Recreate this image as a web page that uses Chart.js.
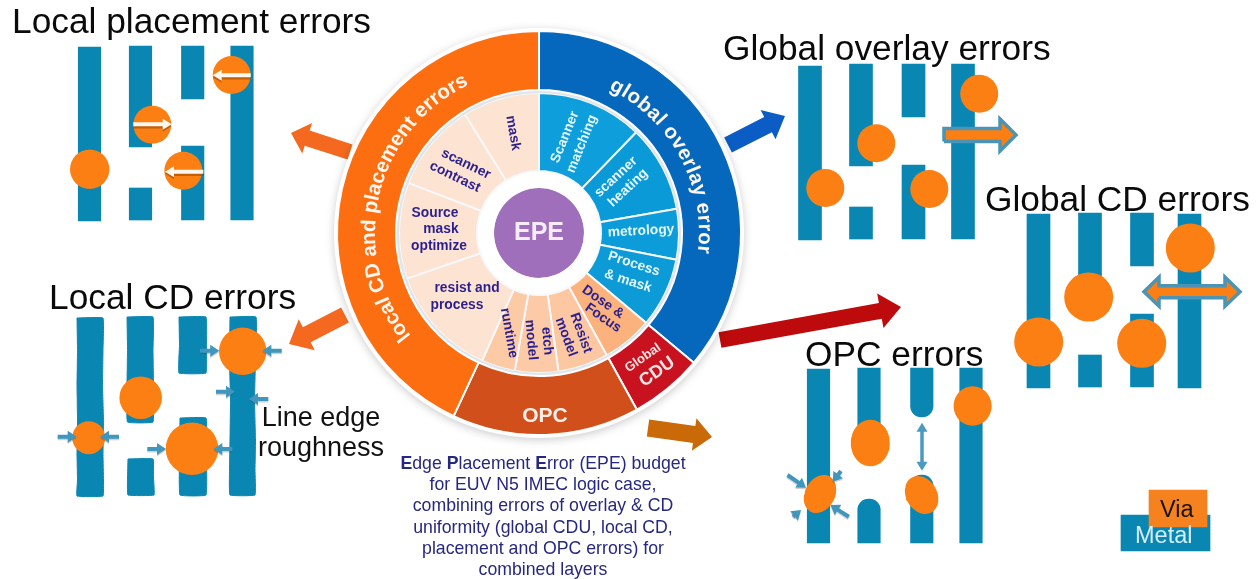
<!DOCTYPE html>
<html>
<head>
<meta charset="utf-8">
<title>EPE budget</title>
<script src="https://cdn.jsdelivr.net/npm/chart.js@4"></script>
<style>
  html, body { margin: 0; padding: 0; background: #fff; }
  #page { position: relative; width: 1257px; height: 579px; overflow: hidden; font-family: "Liberation Sans", Arial, sans-serif; }
  canvas { position: absolute; }
  #diagrams { left: 0; top: 0; }
  #ring { left: 324px; top: 18px; filter: drop-shadow(0 2px 4px rgba(0,0,0,.2)); }
  .title { position: absolute; font-size: 35.3px; line-height: 35px; color: #0a0a0a; white-space: nowrap; }
  .note { position: absolute; font-size: 27px; line-height: 30px; color: #111; text-align: center; width: 160px; }
  .caption { position: absolute; left: 385px; top: 453px; width: 316px; font-size: 17.7px; line-height: 21.2px; color: #26287f; text-align: center; white-space: nowrap; }
  .key { position: absolute; font-size: 23.5px; line-height: 22px; }
</style>
</head>
<body>
<div id="page">
  <canvas id="diagrams" width="1257" height="579"></canvas>
  <canvas id="ring" width="430" height="430"></canvas>
  <div class="title" style="left:12px;top:3px">Local placement errors</div>
  <div class="title" style="left:723px;top:30px">Global overlay errors</div>
  <div class="title" style="left:985px;top:181px">Global CD errors</div>
  <div class="title" style="left:49px;top:279px">Local CD errors</div>
  <div class="title" style="left:805px;top:336px">OPC errors</div>
  <div class="note" style="left:241px;top:402px">Line edge<br>roughness</div>
  <div class="caption"><b>E</b>dge <b>P</b>lacement <b>E</b>rror (EPE) budget<br>for EUV N5 IMEC logic case,<br>combining errors of overlay &amp; CD<br>uniformity (global CDU, local CD,<br>placement and OPC errors) for<br>combined layers</div>
  <div class="key" style="left:1160px;top:498px;color:#1a1208">Via</div>
  <div class="key" style="left:1135px;top:524px;color:#d4eef6">Metal</div>
</div>
<script>
// budget ring, degrees of the circle per item, clockwise from 12 o'clock
const outerItems = ["global overlay error", "Global CDU", "OPC", "local CD and placement errors"];
const outerShares = [130, 21, 54, 155];
const innerItems = ["Scanner matching", "scanner heating", "metrology", "Process & mask", "Dose & Focus", "Resist model", "etch model", "runtime", "resist and process", "Source mask optimize", "scanner contrast", "mask"];
const innerShares = [44, 36, 21, 29, 21, 21, 18, 14, 47, 40, 37, 32];

// metal lines as [x centre, y top, y bottom]
const placementLines = [[89.5, 47, 221], [140.5, 46, 147], [140.5, 188, 220], [192.7, 46, 99], [192.7, 146, 220], [242, 46, 220]];
const overlayLines = [[810, 66, 240], [861, 64, 166], [861, 207, 239], [913.5, 64, 117], [913.5, 165, 239], [963, 64, 239]];
const globalCdLines = [[1038.5, 214, 388], [1090, 213, 314], [1090, 355, 387], [1142, 213, 266], [1142, 314, 387], [1189.5, 214, 388]];
const opcLines = [[818.5, 369, 543], [869, 368, 440], [971, 368, 543]];
const opcPullbackUp = [[921.8, 368, 417]];
const opcPullbackDown = [[869, 499, 543], [921.8, 475, 543]];
const keyMetal = [[1165.5, 515, 551]];
const keyVia = [[1178, 490, 527]];

// local CD lines with rough edges, rows of [y, left x, right x]
const roughLines = [
  [[318, 77, 103], [350, 77.5, 103], [385, 77, 102.5], [420, 77.5, 103.5], [455, 77, 103], [480, 77.5, 103.5], [496, 77, 103]],
  [[317, 127, 153], [350, 127.5, 153], [385, 127, 153.5], [422, 127.5, 153]],
  [[459, 128, 153], [478, 127.5, 153.5], [495, 128, 154]],
  [[317, 179, 206], [345, 179.5, 206.5], [373, 179, 206]],
  [[418, 180, 206], [455, 179.5, 206.5], [495, 180, 206]],
  [[317, 230, 256], [360, 229.5, 255.5], [400, 230.5, 254.5], [440, 230, 255.5], [470, 229.5, 255], [495, 230, 255]]
];

// vias as x, y and radius
const placementViaX = [89.7, 152.3, 183.3, 231.7];
const placementViaY = [169.3, 124.7, 170.7, 75];
const placementViaR = [19.7, 19, 19, 19];
const localCdViaX = [242.7, 140.7, 88.7, 192];
const localCdViaY = [351.3, 397.7, 437.7, 448.7];
const localCdViaR = [23.7, 21.3, 16.5, 26.3];
const overlayViaX = [979.2, 876.3, 825.3, 929.3];
const overlayViaY = [93.7, 143.3, 188, 189];
const overlayViaR = [19, 19, 19, 19];
const globalCdViaX = [1190.3, 1088.7, 1038.7, 1141.7];
const globalCdViaY = [248, 297, 342, 343.3];
const globalCdViaR = [24.5, 24.5, 24.5, 24.5];
// OPC vias are stretched: x, y, half width, half height, tilt in degrees
const opcVias = [[972.6, 406, 19, 19.7, 0], [870.3, 443, 19.5, 23.3, 0], [820, 494, 20, 15, -62], [921.6, 495, 20, 15.5, 60]];

// arrows as [x from, y from, x to, y to]
const shiftArrows = [[250.7, 75.3, 212.7, 75.3], [133.3, 124.3, 171.7, 124.3], [203.3, 171.7, 165, 171.7]];
const pinchArrows = [[200, 350.7, 219.3, 350.7], [281.7, 350.7, 262.3, 350.7], [216, 391.7, 235, 391.7], [268.3, 399, 249, 399], [57.7, 436.7, 76.7, 436.7], [119, 436.7, 100, 436.7], [147.3, 449, 166, 449], [232.3, 449, 213.3, 449], [787.5, 475, 806, 487.7], [848.8, 516.7, 830.4, 505], [841, 471, 832.7, 481.7], [793, 516.7, 801, 510]];
const opcGapArrow = [922, 422.7, 922, 470.7];
const overlayShift = [944, 135, 1016, 135];
const cdGrowth = [1144, 291.7, 1240, 291.7];
const calloutPlacement = [350, 152, 291, 133];
const calloutLocalCd = [345, 315, 289, 344];
const calloutOverlay = [728, 145, 785, 116];
const calloutCdu = [720, 340, 901, 307];
const calloutOpc = [648, 428, 712, 437];

const METAL = "#0a86b3";
const VIA = "#fb7f12";

// closed outline, filled by the line dataset itself
function shape(points, color, order, edge, edgeWidth, tension) {
  return {
    type: "scatter",
    data: points.concat([points[0]]).map(p => ({ x: p[0], y: p[1] })),
    showLine: true,
    fill: "shape",
    backgroundColor: color,
    borderColor: edge || color,
    borderWidth: edgeWidth || 0,
    tension: tension || 0,
    pointRadius: 0,
    order: order
  };
}

// block arrow outline along a segment
function arrowOutline(seg, shaft, headW, headL, both) {
  const len = Math.hypot(seg[2] - seg[0], seg[3] - seg[1]);
  const ux = (seg[2] - seg[0]) / len, uy = (seg[3] - seg[1]) / len;
  const at = (along, side) => [seg[0] + ux * along - uy * side, seg[1] + uy * along + ux * side];
  const start = both ? headL : 0;
  const pts = [at(start, shaft / 2), at(len - headL, shaft / 2), at(len - headL, headW / 2), at(len, 0),
    at(len - headL, -headW / 2), at(len - headL, -shaft / 2), at(start, -shaft / 2)];
  if (both) pts.push(at(headL, -headW / 2), at(0, 0), at(headL, headW / 2));
  return pts;
}

function ellipseOutline(v) {
  const rad = v[4] * Math.PI / 180;
  const pts = [];
  for (let i = 0; i < 48; i++) {
    const a = i / 48 * 2 * Math.PI;
    const ex = v[2] * Math.cos(a), ey = v[3] * Math.sin(a);
    pts.push([v[0] + ex * Math.cos(rad) - ey * Math.sin(rad), v[1] + ex * Math.sin(rad) + ey * Math.cos(rad)]);
  }
  return pts;
}

function roughOutline(rows) {
  const left = rows.map(r => [r[1], r[0]]);
  const right = rows.slice().reverse().map(r => [r[2], r[0]]);
  return left.concat(right);
}

function lineBars(rows, thickness, color, order, radius) {
  return {
    type: "bar",
    data: rows.map(r => ({ x: r[0], y: [r[1], r[2]] })),
    backgroundColor: color,
    barThickness: thickness,
    grouped: false,
    borderSkipped: false,
    borderRadius: radius || 0,
    order: order
  };
}

function viaPoints(xs, ys, rs) {
  return {
    type: "scatter",
    data: xs.map((x, i) => ({ x: x, y: ys[i] })),
    backgroundColor: VIA,
    borderWidth: 0,
    pointRadius: rs,
    order: 4
  };
}

const datasets = [
  lineBars(placementLines, 22.5, METAL, 6),
  lineBars(overlayLines, 23, METAL, 6),
  lineBars(globalCdLines, 23, METAL, 6),
  lineBars(opcLines, 22.5, METAL, 6),
  lineBars(opcPullbackUp, 22.5, METAL, 6, { bottomLeft: 11, bottomRight: 11 }),
  lineBars(opcPullbackDown, 22.5, METAL, 6, { topLeft: 11, topRight: 11 }),
  lineBars(keyMetal, 89, METAL, 6),
  lineBars(keyVia, 58, "#f5821f", 5),
  viaPoints(placementViaX, placementViaY, placementViaR),
  viaPoints(localCdViaX, localCdViaY, localCdViaR),
  viaPoints(overlayViaX, overlayViaY, overlayViaR),
  viaPoints(globalCdViaX, globalCdViaY, globalCdViaR)
];
roughLines.forEach(rows => datasets.push(shape(roughOutline(rows), METAL, 6, METAL, 1, 0.08)));
opcVias.forEach(v => datasets.push(shape(ellipseOutline(v), VIA, 4)));
shiftArrows.forEach(a => {
  datasets.push(shape(arrowOutline(a.map((v, i) => v + (i % 2 ? 2 : 0)), 4.5, 11, 9), "rgba(120,55,0,.45)", 3));
  datasets.push(shape(arrowOutline(a, 4, 11, 9), "#fff8ee", 2));
});
pinchArrows.forEach(a => {
  datasets.push(shape(arrowOutline(a.map((v, i) => v + (i % 2 ? 1.5 : 0)), 4, 12, 9), "rgba(60,70,80,.25)", 3));
  datasets.push(shape(arrowOutline(a, 4, 12, 9), "#4096bd", 2));
});
datasets.push(shape(arrowOutline(opcGapArrow, 3.5, 11, 9, true), "#4a9ac0", 2));
datasets.push(shape(arrowOutline(overlayShift, 13, 32, 16), VIA, 2, "#4b94b6", 3.5));
datasets.push(shape(arrowOutline(cdGrowth, 12, 29, 15, true), VIA, 2, "#4b94b6", 3.5));
datasets.push(shape(arrowOutline(calloutPlacement, 16, 32, 17), "#f4691f", 2));
datasets.push(shape(arrowOutline(calloutLocalCd, 17, 35, 20), "#f4691f", 2));
datasets.push(shape(arrowOutline(calloutOverlay, 17, 33, 19), "#0b5cc4", 2));
datasets.push(shape(arrowOutline(calloutCdu, 16, 35, 21), "#bd0a0c", 2));
datasets.push(shape(arrowOutline(calloutOpc, 17, 33, 18), "#c96908", 2));

new Chart(document.getElementById("diagrams"), {
  type: "bar",
  data: { datasets: datasets },
  options: {
    responsive: false,
    animation: false,
    events: [],
    layout: { padding: 0, autoPadding: false },
    scales: {
      x: { type: "linear", min: 0, max: 1257, display: false, offset: false },
      y: { type: "linear", min: 0, max: 579, reverse: true, display: false }
    },
    plugins: { legend: { display: false }, tooltip: { enabled: false } }
  }
});

// texts laid on the ring: straight ones as [text, dx, dy, degrees, font, colour] from the centre
const NAVY = "#2a1f8f";
const PALE = "#e4f6fd";
const SMALL = "bold 13.8px 'Liberation Sans'";
const ringTexts = [
  ["mask", -26, -100, 80, SMALL, NAVY],
  ["scanner", -73, -69, 26, SMALL, NAVY],
  ["contrast", -84, -56, 26, SMALL, NAVY],
  ["Source", -104, -20, 0, SMALL, NAVY],
  ["mask", -98, -4, 0, SMALL, NAVY],
  ["optimize", -100, 13, 0, SMALL, NAVY],
  ["resist and", -72, 55, 0, SMALL, NAVY],
  ["process", -82, 72, 0, SMALL, NAVY],
  ["runtime", -30, 100, 80, SMALL, NAVY],
  ["etch", 8, 108, 85, SMALL, NAVY],
  ["model", -8, 107, 85, SMALL, NAVY],
  ["Resist", 42, 100, 70, SMALL, NAVY],
  ["model", 27, 104, 70, SMALL, NAVY],
  ["Dose &", 64, 69, 35, SMALL, NAVY],
  ["Focus", 64, 85, 35, SMALL, NAVY],
  ["Scanner", 26, -96, -68, SMALL, PALE],
  ["matching", 43, -89, -68, SMALL, PALE],
  ["scanner", 77, -56, -43, SMALL, PALE],
  ["heating", 89, -45, -43, SMALL, PALE],
  ["metrology", 102, -2, -3, SMALL, PALE],
  ["Process", 95, 31, 18, SMALL, PALE],
  ["& mask", 89, 48, 18, SMALL, PALE],
  ["OPC", 6, 183, 0, "bold 21px 'Liberation Sans'", "#fbeee6"],
  ["Global", 104, 125, -35, "bold 13px 'Liberation Sans'", "#f8e4e4"],
  ["CDU", 118, 139, -35, "bold 18px 'Liberation Sans'", "#f8e4e4"],
  ["EPE", 0, 0, 0, "bold 25px 'Liberation Sans'", "#f4ecf8"]
];
// curved titles: [text, mid angle, baseline radius, font, extra spacing]
const ringTitles = [
  ["local CD and placement errors", 283, 164, "bold 20.5px 'Liberation Sans'", 0],
  ["global overlay error", 61.5, 160, "bold 20.5px 'Liberation Sans'", 0.4]
];

const ringText = {
  id: "ringText",
  afterDatasetsDraw(chart) {
    const arc = chart.getDatasetMeta(1).data[0];
    const cx = arc.x, cy = arc.y, ctx = chart.ctx;
    ctx.save();
    ctx.textBaseline = "middle";
    ctx.textAlign = "center";
    ringTexts.forEach(t => {
      ctx.save();
      ctx.translate(cx + t[1], cy + t[2]);
      ctx.rotate(t[3] * Math.PI / 180);
      ctx.font = t[4];
      ctx.fillStyle = t[5];
      ctx.fillText(t[0], 0, 0);
      ctx.restore();
    });
    ctx.textBaseline = "alphabetic";
    ctx.fillStyle = "#fff6ee";
    ringTitles.forEach(t => {
      ctx.font = t[3];
      const chars = Array.from(t[0]);
      const total = chars.reduce((sum, c) => sum + ctx.measureText(c).width + t[4], 0);
      let a = t[1] * Math.PI / 180 - total / 2 / t[2];
      chars.forEach(c => {
        const w = ctx.measureText(c).width + t[4];
        a += w / 2 / t[2];
        ctx.save();
        ctx.translate(cx + t[2] * Math.sin(a), cy - t[2] * Math.cos(a));
        ctx.rotate(a);
        ctx.fillText(c, 0, 0);
        ctx.restore();
        a += w / 2 / t[2];
      });
    });
    ctx.restore();
  }
};

// outermost dataset first; weights are the ring widths in pixels
new Chart(document.getElementById("ring"), {
  type: "doughnut",
  data: {
    labels: innerItems,
    datasets: [
      { data: [1], backgroundColor: ["#ffffff"], borderWidth: 0, weight: 3 },
      { data: outerShares, backgroundColor: ["#0668bc", "#c8121f", "#d04f1b", "#fd6e11"], borderColor: "#fff", borderWidth: 2, weight: 59 },
      { data: [1], backgroundColor: ["#dfe5ea"], borderWidth: 0, weight: 3 },
      { data: innerShares, backgroundColor: ["#0d9edb", "#0b9ad8", "#0c9cd9", "#0d9bd8", "#fbb27d", "#fdc7a1", "#fdcaa7", "#fdcaa6", "#fde3d1", "#fde3d1", "#fde3d1", "#fde3d1"], borderColor: "#f6f8f9", borderWidth: 2, weight: 78 },
      { data: [1], backgroundColor: ["#ffffff"], borderWidth: 0, weight: 17 },
      { data: [1], backgroundColor: ["#a06fbc"], borderWidth: 0, weight: 45 }
    ]
  },
  options: {
    responsive: false,
    animation: false,
    events: [],
    cutout: 0,
    radius: 205,
    layout: { padding: 0 },
    plugins: { legend: { display: false }, tooltip: { enabled: false } }
  },
  plugins: [ringText]
});
</script>
</body>
</html>
